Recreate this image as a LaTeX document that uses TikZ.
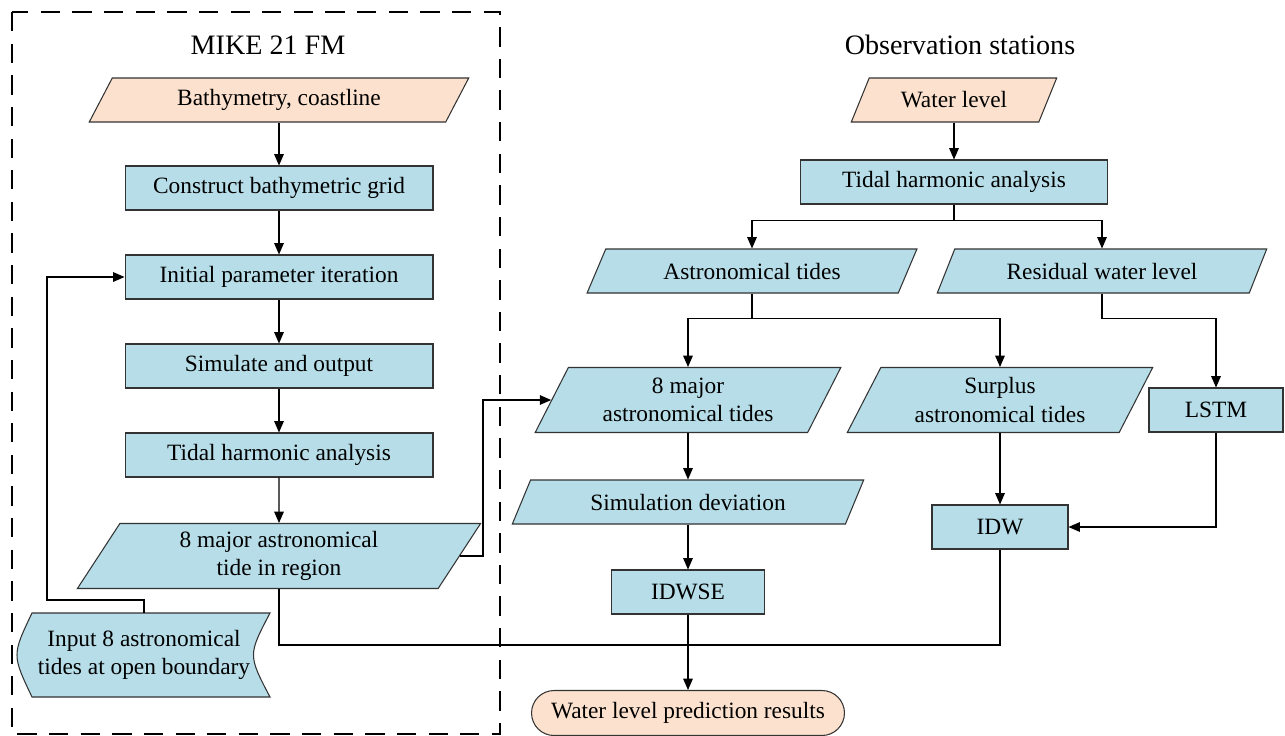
\documentclass[tikz,border=0pt]{standalone}
\usepackage{fontspec}
\setmainfont{Liberation Serif}
\usetikzlibrary{arrows.meta,calc,shapes.geometric}
\definecolor{boxblue}{RGB}{182,221,232}
\definecolor{boxpeach}{RGB}{252,226,206}

\begin{document}
\begin{tikzpicture}[x=0.02cm,y=-0.02cm,>={Triangle[length=6.5pt,width=5.5pt]},
  every node/.style={font=\fontsize{13.3}{16}\selectfont},
  title/.style={font=\fontsize{16}{19}\selectfont},
  proc/.style={draw=black!80,line width=0.6pt,fill=boxblue,minimum height=0.88cm,inner sep=2pt},
  io/.style={trapezium,trapezium left angle=60,trapezium right angle=120,trapezium stretches=true,
    draw=black!80,line width=0.6pt,fill=boxblue,minimum height=0.88cm,inner sep=1pt},
  io2/.style={io,trapezium left angle=63,trapezium right angle=117,minimum height=1.3cm,align=center},
  link/.style={line width=0.6pt}]
  % page: 1285 x 735 px
  \useasboundingbox (0,0) rectangle (1285,735);
  % MIKE 21 FM frame
  \draw[line width=0.9pt,dash pattern=on 11pt off 7pt] (12,12) rectangle (500,734);
  \node[title] (mike) at (268,45) {MIKE 21 FM};
  \node[title] (obs) at (960,45) {Observation stations};
  % left column
  \node[io,fill=boxpeach,minimum width=7.6cm] (bathy) at (279,100) {Bathymetry, coastline};
  \node[proc,minimum width=6.16cm] (grid) at (279,188) {Construct bathymetric grid};
  \node[proc,minimum width=6.16cm] (init) at (279,277) {Initial parameter iteration};
  \node[proc,minimum width=6.16cm] (simul) at (279,366) {Simulate and output};
  \node[proc,minimum width=6.16cm] (tidal1) at (279,455) {Tidal harmonic analysis};
  \node[io2,minimum width=8.08cm] (region) at (279,556) {8 major astronomical\\tide in region};
  % boundary input (stored data)
  \draw[draw=black!80,line width=0.6pt,fill=boxblue]
    (32,613) -- (270,613) .. controls (248,655) .. (270,697) -- (32,697) .. controls (12,655) .. cycle;
  \node[minimum width=4.96cm,minimum height=1.68cm,align=center] (input) at (144,655)
    {Input 8 astronomical\\tides at open boundary};
  % right column
  \node[io,fill=boxpeach,minimum width=4.14cm] (water) at (954,100) {Water level};
  \node[proc,minimum width=6.14cm] (tidal2) at (954,182) {Tidal harmonic analysis};
  \node[io,minimum width=6.6cm] (astro) at (752,271) {Astronomical tides};
  \node[io,minimum width=6.6cm] (resid) at (1102,271) {Residual water level};
  \node[io2,minimum width=6.12cm] (major8) at (688,400) {8 major\\astronomical tides};
  \node[io2,minimum width=6.12cm] (surplus) at (1000,400) {Surplus\\astronomical tides};
  \node[proc,minimum width=2.68cm] (lstm) at (1216,410) {LSTM};
  \node[io,minimum width=7.04cm] (simdev) at (688,502) {Simulation deviation};
  \node[proc,minimum width=2.72cm] (idw) at (1000,527) {IDW};
  \node[proc,minimum width=3.06cm] (idwse) at (688,592) {IDWSE};
  \node[draw=black!80,line width=0.6pt,fill=boxpeach,rounded corners=0.45cm,
    minimum width=6.26cm,minimum height=0.9cm] (result) at (688,713) {Water level prediction results};
  % connectors, left
  \draw[link,->] (bathy.center |- bathy.south) -- (grid);
  \draw[link,->] (grid) -- (init);
  \draw[link,->] (init) -- (simul);
  \draw[link,->] (simul) -- (tidal1);
  \draw[link,->] (tidal1) -- (region);
  \draw[link,->] (input.north) |- (47,600) |- (init.west);
  \draw[link,->] (region.east) -- ++(23,0) |- (major8.west);
  % connectors, right
  \draw[link,->] (water.center |- water.south) -- (tidal2);
  \draw[link] (tidal2.south) -- ++(0,16) coordinate (split1);
  \draw[link,->] (split1) -| (astro.center |- astro.north);
  \draw[link,->] (split1) -| (resid.center |- resid.north);
  \draw[link] (astro.center |- astro.south) -- ++(0,25) coordinate (split2);
  \draw[link,->] (split2) -| (major8.center |- major8.north);
  \draw[link,->] (split2) -| (surplus.center |- surplus.north);
  \draw[link,->] (resid.center |- resid.south) -- ++(0,25) -| (lstm.north);
  \draw[link,->] (major8.center |- major8.south) -- (simdev.center |- simdev.north);
  \draw[link,->] (simdev.center |- simdev.south) -- (idwse.north);
  \draw[link,->] (surplus.center |- surplus.south) -- (idw.north);
  \draw[link,->] (lstm.south) |- (idw.east);
  % merge into result
  \coordinate (merge) at (688,645);
  \draw[link] (region.center |- region.south) |- (merge);
  \draw[link] (idw.south) |- (merge);
  \draw[link,->] (idwse.south) -- (result.north);
\end{tikzpicture}
\end{document}
